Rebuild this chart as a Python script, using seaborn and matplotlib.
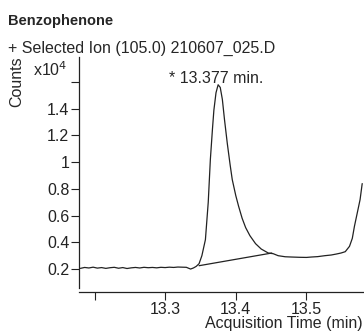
import numpy as np
import pandas as pd
import matplotlib
matplotlib.use("Agg")
import matplotlib.pyplot as plt
import seaborn as sns

# traced chromatogram, counts in units of 1e4
time_min = [13.180, 13.186, 13.192, 13.198, 13.204, 13.210, 13.216, 13.222, 13.228, 13.234,
            13.240, 13.246, 13.252, 13.258, 13.264, 13.270, 13.276, 13.282, 13.288, 13.294,
            13.300, 13.306, 13.312, 13.318, 13.324, 13.330, 13.336, 13.340, 13.344, 13.348,
            13.352, 13.357, 13.361, 13.364, 13.367, 13.369, 13.372, 13.375, 13.378, 13.381,
            13.384, 13.388, 13.392, 13.395, 13.400, 13.404, 13.409, 13.414, 13.420, 13.428,
            13.436, 13.446, 13.453, 13.460, 13.470, 13.479, 13.490, 13.500, 13.507, 13.516,
            13.526, 13.535, 13.542, 13.549, 13.555, 13.561, 13.565, 13.568, 13.572, 13.576,
            13.579]
counts = [0.205, 0.212, 0.208, 0.214, 0.207, 0.211, 0.205, 0.210, 0.213, 0.206,
          0.211, 0.204, 0.209, 0.212, 0.208, 0.213, 0.210, 0.212, 0.209, 0.213,
          0.211, 0.214, 0.212, 0.215, 0.214, 0.213, 0.200, 0.208, 0.220, 0.240,
          0.300, 0.420, 0.700, 1.020, 1.250, 1.390, 1.520, 1.580, 1.560, 1.470,
          1.320, 1.140, 0.980, 0.870, 0.750, 0.670, 0.580, 0.510, 0.450, 0.390,
          0.350, 0.320, 0.315, 0.300, 0.292, 0.290, 0.288, 0.287, 0.290, 0.293,
          0.300, 0.305, 0.312, 0.320, 0.330, 0.370, 0.430, 0.520, 0.620, 0.720,
          0.840]

# integration baseline drawn under the peak
base_time = [13.348, 13.451]
base_counts = [0.225, 0.320]

x_ticks = [13.2, 13.3, 13.4, 13.5]
x_tick_labels = ["", "13.3", "13.4", "13.5"]
y_ticks = [0.2, 0.4, 0.6, 0.8, 1.0, 1.2, 1.4, 1.6]
y_tick_labels = ["0.2", "0.4", "0.6", "0.8", "1", "1.2", "1.4", ""]

sns.set_style("ticks")
plt.rcParams["font.family"] = ["Liberation Sans", "DejaVu Sans"]
fs = 11.5

df = pd.DataFrame({"t": time_min, "c": counts})
df_base = pd.DataFrame({"t": base_time, "c": base_counts})

fig = plt.figure(figsize=(3.64, 3.32), dpi=100)
ax = fig.add_axes([0.217, 0.1325, 0.78, 0.6955])

sns.lineplot(data=df, x="t", y="c", ax=ax, color="#222222", linewidth=0.9)
sns.lineplot(data=df_base, x="t", y="c", ax=ax, color="#222222", linewidth=0.9)

# spine offset first, it resets tick styling
sns.despine(ax=ax)
ax.spines["bottom"].set_position(("outward", 3))
for s in ["left", "bottom"]:
    ax.spines[s].set_linewidth(0.9)
    ax.spines[s].set_color("#222222")

ax.set_xlim(13.178, 13.58)
ax.set_ylim(0.058, 1.787)
ax.set_xticks(x_ticks)
ax.set_xticklabels(x_tick_labels, fontsize=fs)
ax.set_yticks(y_ticks)
ax.set_yticklabels(y_tick_labels, fontsize=fs)
ax.tick_params(axis="both", length=6, width=0.8, pad=1, colors="#222222")
ax.set_ylabel("")
ax.set_xlabel("Acquisition Time (min)", fontsize=fs, loc="right", labelpad=-1)

ax.text(13.305, 1.63, "* 13.377 min.", fontsize=fs, ha="left", va="center")

fig.text(0.022, 0.938, "Benzophenone", fontsize=10.5, fontweight="bold", ha="left", va="center")
fig.text(0.022, 0.855, "+ Selected Ion (105.0) 210607_025.D", fontsize=fs, ha="left", va="center")
fig.text(0.047, 0.755, "Counts", fontsize=fs, rotation=90, ha="center", va="center")
fig.text(0.09, 0.79, r"x10$^4$", fontsize=fs, ha="left", va="center")

fig.savefig("out.png", dpi=100)
